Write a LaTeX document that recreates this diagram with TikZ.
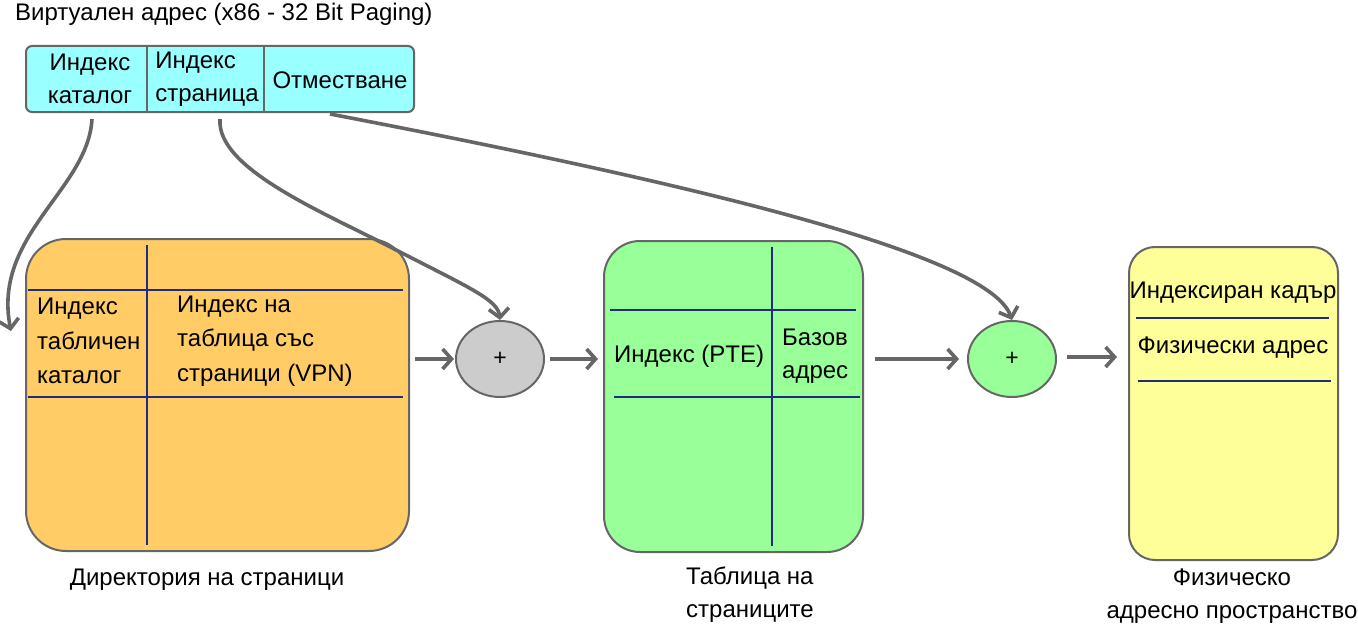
\documentclass[tikz,border=0pt]{standalone}
\usepackage{fontspec}
\setmainfont{Liberation Sans}
\usetikzlibrary{arrows.meta,shapes.geometric}
\definecolor{bord}{HTML}{666666}
\definecolor{navy}{HTML}{1F2D7A}
\definecolor{cyanf}{HTML}{99FFFF}
\definecolor{orangef}{HTML}{FFCC66}
\definecolor{greenf}{HTML}{99FF99}
\definecolor{yellowf}{HTML}{FFFF99}
\definecolor{grayf}{HTML}{CCCCCC}
\tikzset{
  txt/.style={font=\fontsize{24}{33}\selectfont, inner sep=0pt},
  txtb/.style={font=\fontsize{24}{34.5}\selectfont, inner sep=0pt},
  box/.style={draw=bord, line width=2pt, inner sep=0pt},
  grid/.style={draw=navy, line width=2pt},
  sep/.style={draw=bord, line width=2pt},
  arr/.style={draw=bord, line width=3.6pt, -{Straight Barb[length=9pt,width=20pt]}},
  plus/.style={ellipse, draw=bord, line width=2pt, minimum width=88pt, minimum height=76pt, inner sep=0pt, font=\fontsize{23}{23}\selectfont},
}
\begin{document}
\begin{tikzpicture}[x=1pt,y=-1pt]
\useasboundingbox[fill=white] (0,0) rectangle (1358,642);

% title
\node[txt, anchor=west] (title) at (15,14) {Виртуален адрес (x86 - 32 Bit Paging)};

% virtual address box
\node[box, fill=cyanf, rounded corners=6pt, minimum width=388pt, minimum height=66pt] (va) at (220,79) {};
\draw[sep] (147,46) -- (147,112);
\draw[sep] (264,46) -- (264,112);
\node[txt, align=center] (c1) at (90,79) {Индекс\\каталог};
\node[txt, align=left] (c2) at (207,79) {Индекс\\страница};
\node[txt] (c3) at (340,80) {Отместване};

% page directory
\node[box, fill=orangef, rounded corners=40pt, minimum width=383pt, minimum height=312pt] (dir) at (217.5,395) {};
\draw[grid] (147,245) -- (147,545);
\draw[grid] (28,290) -- (403,290);
\draw[grid] (28,397) -- (403,397);
\node[txtb, anchor=west, align=left] (d1) at (37,341) {Индекс\\табличен\\каталог};
\node[txtb, anchor=west, align=left] (d2) at (177,341) {Индекс на\\таблица със\\страници (VPN)};
\node[txt] (dl) at (207,580) {Директория на страници};

% first adder
\node[plus, fill=grayf] (p1) at (500,359) {+};

% page table
\node[box, fill=greenf, rounded corners=36pt, minimum width=259pt, minimum height=311pt] (pt) at (733.5,396.5) {};
\draw[grid] (772,247) -- (772,546);
\draw[grid] (610,310) -- (856,310);
\draw[grid] (614,397) -- (860,397);
\node[txt, anchor=west] (t1) at (614,356) {Индекс (PTE)};
\node[txt, anchor=west, align=left] (t2) at (782,356) {Базов\\адрес};
\node[txt, align=left] (tl) at (750,595) {Таблица на\\страниците};

% second adder
\node[plus, fill=greenf] (p2) at (1012,359) {+};

% physical address space
\node[box, fill=yellowf, rounded corners=26pt, minimum width=209pt, minimum height=313pt] (phys) at (1233.5,403.5) {};
\draw[grid] (1136,318) -- (1329,318);
\draw[grid] (1138,381) -- (1331,381);
\node[txt] (y1) at (1233,293) {Индексиран кадър};
\node[txt] (y2) at (1233,348) {Физически адрес};
\node[txt, align=center] (yl) at (1232,596) {Физическо\\адресно пространство};

% connectors
\coordinate (lend) at (11,331);
\draw[arr] ([xshift=-128pt,yshift=-6pt]va.south) .. controls (88,190) and (-8,235) .. (lend);
\draw[arr] ([xshift=0pt,yshift=-6pt]va.south) .. controls (216,170) and (330,215) .. (400,252) .. controls (470,288) and (498,300) .. (p1.north);
\draw[arr] ([xshift=110pt,yshift=-1pt]va.south) .. controls (700,185) and (990,255) .. (p2.north);

\draw[arr, shorten <=5pt, shorten >=1pt] (dir.east |- p1.west) -- (p1.west);
\draw[arr, shorten <=5pt, shorten >=5pt] (p1.east) -- (p1.east -| pt.west);
\draw[arr, shorten <=11pt, shorten >=8pt] (pt.east |- p2.west) -- (p2.west);
\draw[arr, shorten <=10pt, shorten >=11pt] ([yshift=2pt]p2.east) -- ([yshift=2pt]p2.east -| phys.west);
\end{tikzpicture}
\end{document}
